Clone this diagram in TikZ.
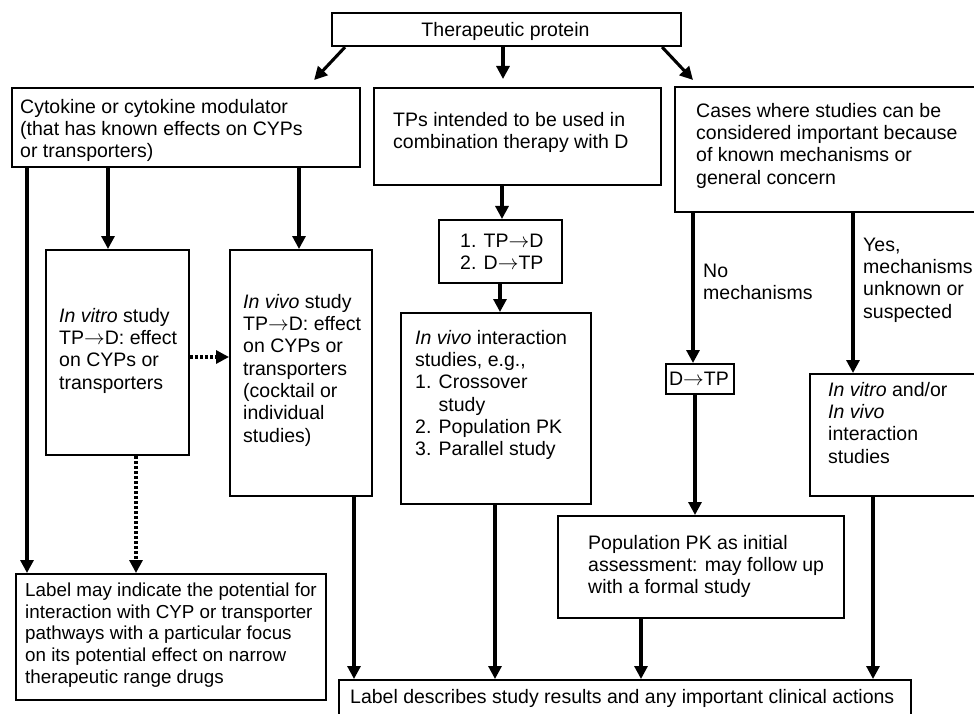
\documentclass[tikz,border=0pt]{standalone}
\usepackage{fontspec}
\setmainfont{Liberation Sans}
\usetikzlibrary{arrows.meta,calc}
\newcommand\fs{\rule{0pt}{16pt}}
\newcommand\ra{$\rightarrow$}
\begin{document}
\begin{tikzpicture}[x=1pt,y=-1pt,
  box/.style={draw, line width=2.1pt, inner sep=0pt, anchor=north west},
  txt/.style={font=\fontsize{19.5}{22.3}\selectfont, inner sep=0pt, anchor=north west, align=left},
  arr/.style={line width=3.1pt, -{Triangle[length=13pt,width=13pt]}},
  dotarr/.style={arr, dash pattern=on 3pt off 2pt}]
\useasboundingbox (0,0) rectangle (974,714);
\fill[white] (0,0) rectangle (974,714);
\clip (0,0) rectangle (974,714);
% boxes
\node[box, minimum width=349pt, minimum height=33pt] (top) at (331,12) {};
\node[box, minimum width=348pt, minimum height=79pt] (cyt) at (11,87) {};
\node[box, minimum width=287pt, minimum height=97pt] (tps) at (373,87) {};
\node[box, minimum width=330pt, minimum height=125pt] (cases) at (674,86) {};
\node[box, minimum width=143pt, minimum height=205pt] (invitro) at (45,249) {};
\node[box, minimum width=142pt, minimum height=246pt] (invivo) at (229,249) {};
\node[box, minimum width=123pt, minimum height=63pt] (tpd) at (438,219) {};
\node[box, minimum width=190pt, minimum height=191pt] (invint) at (400,312) {};
\node[box, minimum width=68pt, minimum height=30pt] (dtp) at (665,363) {};
\node[box, minimum width=195pt, minimum height=122pt] (ivor) at (809,373) {};
\node[box, minimum width=310pt, minimum height=126pt] (label) at (15,573) {};
\node[box, minimum width=286pt, minimum height=102pt] (poppk) at (557,515) {};
\node[box, minimum width=572pt, minimum height=60pt] (final) at (338,679) {};
% texts
\node[txt, anchor=north] (ttop) at (505.5,20) {\fs Therapeutic protein};
\node[txt] (tcyt) at (20,97) {\fs Cytokine or cytokine modulator\\(that has known effects on CYPs\\or transporters)};
\node[txt] (ttps) at (393,110) {\fs TPs intended to be used in\\combination therapy with D};
\node[txt] (tcases) at (696,101) {\fs Cases where studies can be\\considered important because\\of known mechanisms or\\general concern};
\node[txt] (ttpd) at (460,231) {\fs 1. TP\ra D\\2. D\ra TP};
\node[txt] (tinvitro) at (59,306) {\fs\textit{In vitro} study\\TP\ra D: effect\\on CYPs or\\transporters};
\node[txt] (tinvivo) at (243,292) {\fs\textit{In vivo} study\\TP\ra D: effect\\on CYPs or\\transporters\\(cocktail or\\individual\\studies)};
\node[txt] (tinvint) at (415,328) {\fs\textit{In vivo} interaction\\studies, e.g.,\\1. Crossover\\\phantom{1. }study\\2. Population PK\\3. Parallel study};
\node[txt] (tno) at (703,261) {\fs No\\mechanisms};
\node[txt] (tyes) at (863,235) {\fs Yes,\\mechanisms\\unknown or\\suspected};
\node[txt, anchor=north] (tdtp) at (699,369) {\fs D\ra TP};
\node[txt] (tivor) at (828,380) {\fs\textit{In vitro} and/or\\\textit{In vivo}\\interaction\\studies};
\node[txt, font=\fontsize{18.8}{21.8}\selectfont] (tlabel) at (25,580) {\fs Label may indicate the potential for\\interaction with CYP or transporter\\pathways with a particular focus\\on its potential effect on narrow\\therapeutic range drugs};
\node[txt] (tpoppk) at (588,533) {\fs Population PK as initial\\assessment: may follow up\\with a formal study};
\node[txt] (tfinal) at (350,687) {\fs Label describes study results and any important clinical actions};
% connectors
\draw[arr] ($(top.south west)+(14,0)$) -- ($(cyt.north east)+(-47,-7)$);
\draw[arr] ($(top.south west)+(172,0)$) -- ($(tps.north west)+(130,-8)$);
\draw[arr] ($(top.south east)+(-20,0)$) -- ($(cases.north west)+(19,-6)$);
\draw[arr] ($(cyt.south west)+(97,0)$) -- ($(invitro.north west)+(63,0)$);
\draw[arr] ($(cyt.south west)+(288,0)$) -- ($(invivo.north west)+(70,0)$);
\draw[arr] ($(cyt.south west)+(16,0)$) -- ($(label.north west)+(12,0)$);
\draw[dotarr] ($(invitro.north east)+(0,108)$) -- ($(invivo.north west)+(0,108)$);
\draw[dotarr] ($(invitro.south west)+(91,0)$) -- ($(label.north west)+(121,0)$);
\draw[arr] ($(tps.south west)+(129,0)$) -- ($(tpd.north west)+(64,0)$);
\draw[arr] ($(tpd.south west)+(62,0)$) -- ($(invint.north west)+(100,0)$);
\draw[arr] ($(cases.south west)+(19,0)$) -- ($(dtp.north west)+(28,0)$);
\draw[arr] ($(cases.south west)+(179,0)$) -- ($(ivor.north west)+(44,0)$);
\draw[arr] ($(dtp.south west)+(30,0)$) -- ($(poppk.north west)+(138,0)$);
\draw[arr] ($(invivo.south west)+(125,0)$) -- ($(final.north west)+(16,0)$);
\draw[arr] ($(invint.south west)+(95,0)$) -- ($(final.north west)+(157,0)$);
\draw[arr] ($(poppk.south west)+(84,0)$) -- ($(final.north west)+(303,0)$);
\draw[arr] ($(ivor.south west)+(64,0)$) -- ($(final.north west)+(535,0)$);
\end{tikzpicture}
\end{document}
